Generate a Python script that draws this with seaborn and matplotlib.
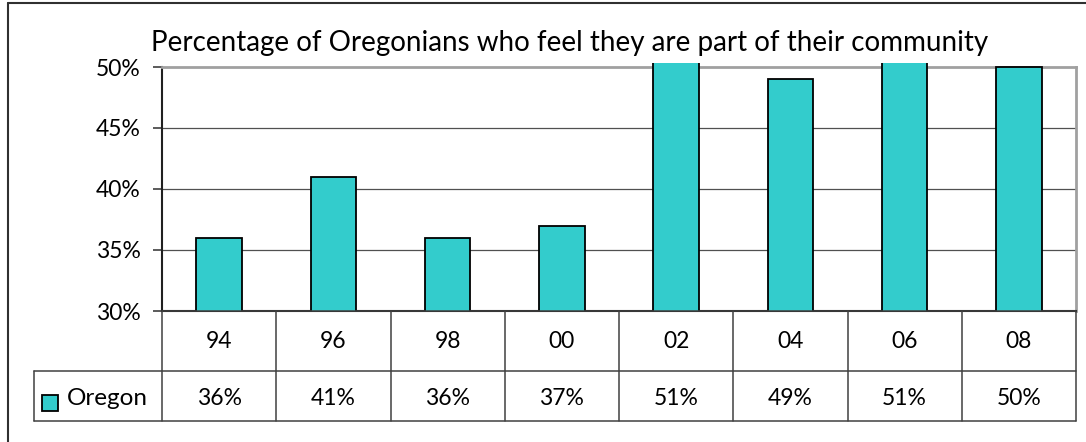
import matplotlib
matplotlib.use("Agg")
import matplotlib.pyplot as plt
import matplotlib.transforms as mtransforms
from matplotlib.lines import Line2D
from matplotlib.patches import Rectangle
import seaborn as sns
import pandas as pd

# ---- data ----
years = ["94", "96", "98", "00", "02", "04", "06", "08"]
oregon = [36, 41, 36, 37, 51, 49, 51, 50]
series_name = "Oregon"
title = "Percentage of Oregonians who feel they are part of their community"
yticks = [30, 35, 40, 45, 50]

df = pd.DataFrame({"year": years, "value": oregon})

sns.set_theme(style="white")
plt.rcParams["font.family"] = ["Lato", "DejaVu Sans"]

W, H = 1086, 442
fig = plt.figure(figsize=(W / 100, H / 100), dpi=100)

def fx(px):
    return px / W

def fy(py):
    return 1 - py / H

left, right, top, bottom = 162, 1076, 67, 311
ax = fig.add_axes([fx(left), fy(bottom), fx(right - left), (bottom - top) / H])

teal = "#33CCCC"
sns.barplot(data=df, x="year", y="value", color=teal, width=0.40,
            edgecolor="black", linewidth=1.3, saturation=1, ax=ax)
ax.set_xlim(-0.5, len(years) - 0.5)
ax.set_ylim(30, 50)
# clip bars to a region slightly taller than the axes (as the original does)
clip = Rectangle((0, 0), 1, 1.017, transform=ax.transAxes, facecolor="none",
                 edgecolor="none")
for p in ax.patches:
    p.set_clip_path(clip)
    p.set_zorder(3)
ax.set_yticks(yticks)
ax.set_yticklabels([f"{t}%" for t in yticks], fontsize=16.5, color="black")
ax.set_xticks([])
ax.set_xlabel("")
ax.set_ylabel("")
for t in yticks[1:-1]:
    ax.axhline(t, color="#505050", linewidth=0.9, zorder=0)
ax.tick_params(axis="y", length=6.5, width=1.2, color="#404040", pad=9, left=True)
for s in ["top", "right"]:
    ax.spines[s].set_color("#A0A0A0")
    ax.spines[s].set_linewidth(2)
ax.spines["left"].set_color("#202020")
ax.spines["left"].set_linewidth(1.5)
ax.spines["bottom"].set_color("#202020")
ax.spines["bottom"].set_linewidth(1.5)
ax.set_facecolor("white")

# title
fig.text(fx(570), fy(43), title, ha="center", va="center", fontsize=20, color="black")

# ---- data table below the axes ----
trans = mtransforms.blended_transform_factory(ax.transData, fig.transFigure)
row1_top, row1_bot, row2_bot = fy(311), fy(371), fy(421)
legend_left = fx(33.5)
lc = "#404040"
lw = 1.1

for i in range(len(years) + 1):
    x = i - 0.5
    fig.add_artist(Line2D([x, x], [row2_bot, row1_top], transform=trans,
                          color=lc, linewidth=lw))
fig.add_artist(Line2D([-0.5, len(years) - 0.5], [row1_top, row1_top], transform=trans,
                      color=lc, linewidth=lw))
fig.add_artist(Line2D([legend_left, fx(right)], [row1_bot, row1_bot],
                      transform=fig.transFigure, color=lc, linewidth=lw))
fig.add_artist(Line2D([legend_left, fx(right)], [row2_bot, row2_bot],
                      transform=fig.transFigure, color=lc, linewidth=lw))
fig.add_artist(Line2D([legend_left, legend_left], [row2_bot, row1_bot],
                      transform=fig.transFigure, color=lc, linewidth=lw))

for i, (yr, v) in enumerate(zip(years, oregon)):
    fig.text(i, (row1_top + row1_bot) / 2, yr, transform=trans, ha="center",
             va="center", fontsize=16.5, color="black")
    fig.text(i, (row1_bot + row2_bot) / 2 - 0.006, f"{v}%", transform=trans,
             ha="center", va="center", fontsize=16.5, color="black")

# legend key in table
fig.add_artist(Rectangle((fx(42), fy(411)), fx(16), 16 / H, transform=fig.transFigure,
                         facecolor=teal, edgecolor="black", linewidth=1.3))
fig.text(fx(67), (row1_bot + row2_bot) / 2 - 0.006, series_name, ha="left", va="center",
         fontsize=17.5, color="black")

# outer chart frame (left and top visible)
fig.add_artist(Line2D([fx(8), fx(8)], [0, fy(3)], transform=fig.transFigure,
                      color="#303030", linewidth=1.5))
fig.add_artist(Line2D([fx(8), 1], [fy(3), fy(3)], transform=fig.transFigure,
                      color="#303030", linewidth=1.5))

fig.savefig("out.png", dpi=100, facecolor="white")
